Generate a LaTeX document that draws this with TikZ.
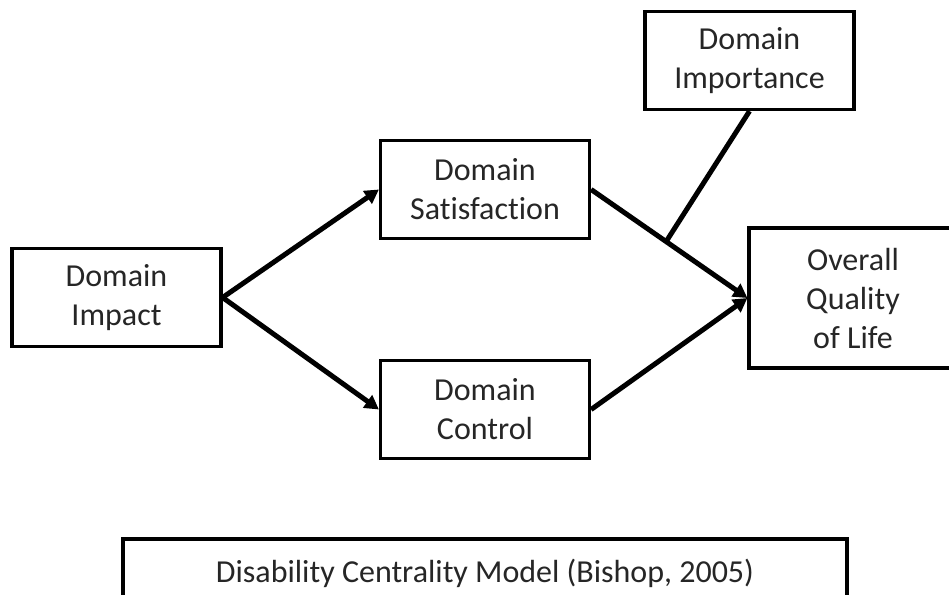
\documentclass[tikz,border=0pt]{standalone}
\usepackage{fontspec}
\setmainfont{Carlito}[Ligatures=NoCommon]
\usetikzlibrary{arrows.meta,calc}
\begin{document}
\begin{tikzpicture}[x=1pt,y=-1pt,
  boxnode/.style={draw=black,line width=3.2pt,fill=white,inner sep=0pt,align=center,
    minimum width=209pt,minimum height=98pt,text=black!85,
    font=\fontsize{32}{39}\selectfont},
  link/.style={line width=5pt,-{Triangle[length=14pt,width=15pt]}},
  plain/.style={line width=5pt}]
\clip (0,0) rectangle (949,594);
\fill[white] (0,0) rectangle (949,594);
\node[boxnode] (impact) at (116.5,297.5) {Domain\\Impact};
\node[boxnode] (sat) at (485,189.5) {Domain\\Satisfaction};
\node[boxnode] (ctrl) at (485,409.5) {Domain\\Control};
\node[boxnode] (imp) at (749.5,60.5) {Domain\\Importance};
\node[boxnode,minimum width=208pt,minimum height=140pt] (qol) at (853,298) {Overall\\Quality\\of Life};
\node[boxnode,minimum width=724pt,minimum height=68pt] (title) at (485,573) {Disability Centrality Model (Bishop, 2005)};
\draw[link] (impact.east) -- (sat.west);
\draw[link] (impact.east) -- (ctrl.west);
\draw[link] (sat.east) -- (qol.west);
\draw[link] (ctrl.east) -- (qol.west);
\coordinate (join) at ($(sat.east)!0.48!(qol.west)$);
\draw[plain] (imp.south) -- (join);
\end{tikzpicture}
\end{document}
